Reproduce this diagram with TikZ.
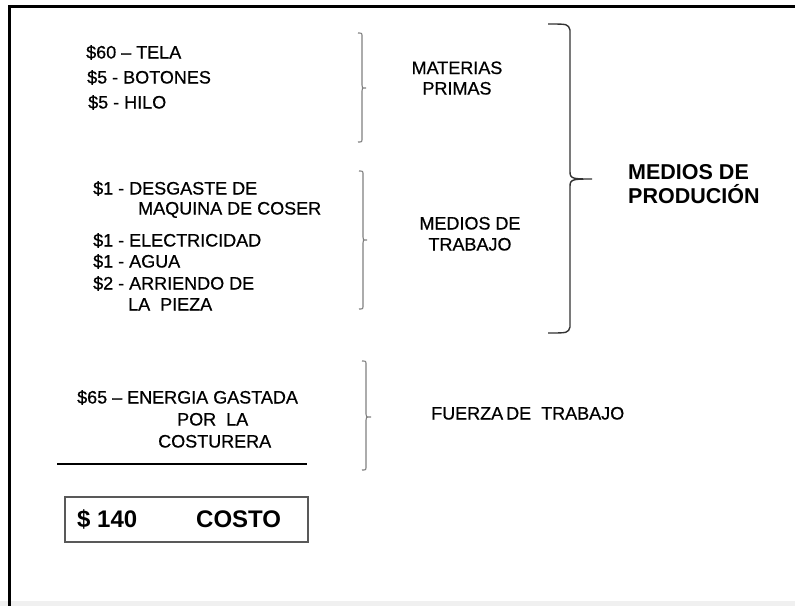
\documentclass[tikz,border=0pt]{standalone}
\usepackage{fontspec}
\setmainfont{Liberation Sans}
\newfontfamily\regfont[FakeBold=0.6]{Liberation Sans}
\tikzset{
  txt/.style={anchor=base west, inner sep=0pt, font=\regfont\fontsize{18}{20}\selectfont, text=black},
  ctxt/.style={anchor=base, inner sep=0pt, font=\regfont\fontsize{18}{20}\selectfont, text=black},
  bigt/.style={anchor=base west, inner sep=0pt, font=\fontsize{21.5}{24}\selectfont\bfseries, text=black},
  costt/.style={anchor=base west, inner sep=0pt, font=\fontsize{24}{26}\selectfont\bfseries, text=black},
  smallbrace/.style={draw=black!50, line width=1.1pt},
  bigbrace/.style={draw=black!80, line width=1.4pt},
  frameline/.style={draw=black, line width=3pt},
}
\begin{document}
\begin{tikzpicture}[x=1pt,y=-1pt]
\useasboundingbox (0,0) rectangle (795,606);
\fill[black!6] (0,601) rectangle (795,606);
% frame
\draw[frameline] (9,6.5) -- (795,6.5);
\draw[frameline] (9,5) -- (9,606);

% materias primas
\node[txt] (t1) at (86,58.5) {\$60 – TELA};
\node[txt] (t2) at (87,83.5) {\$5 - BOTONES};
\node[txt] (t3) at (88,108.5) {\$5 - HILO};
% medios de trabajo
\node[txt] (m1) at (93,194.5) {\$1 - DESGASTE DE};
\node[txt] (m2) at (138,214.5) {MAQUINA DE COSER};
\node[txt] (m3) at (93,246.5) {\$1 - ELECTRICIDAD};
\node[txt] (m4) at (93,267.5) {\$1 - AGUA};
\node[txt] (m5) at (93,289.5) {\$2 - ARRIENDO DE};
\node[txt] (m6) at (128,310.5) {LA\ \ PIEZA};

% small brackets
\draw[smallbrace] (358,33) .. controls (362,33) .. (362,37) -- (362,85) .. controls (362,88) .. (366,88) .. controls (362,88) .. (362,91) -- (362,138) .. controls (362,142) .. (358,142);
\draw[smallbrace] (359,171) .. controls (363,171) .. (363,175) -- (363,237) .. controls (363,240) .. (367,240) .. controls (363,240) .. (363,243) -- (363,305) .. controls (363,309) .. (359,309);
\draw[smallbrace] (362,361) .. controls (366,361) .. (366,365) -- (366,414) .. controls (366,417) .. (371,417) .. controls (366,417) .. (366,420) -- (366,466) .. controls (366,470) .. (362,470);

% labels
\node[ctxt] (mp1) at (457,74) {MATERIAS};
\node[ctxt] (mp2) at (457,94.5) {PRIMAS};
\node[ctxt] (mt1) at (470,229.5) {MEDIOS DE};
\node[ctxt] (mt2) at (470,250.5) {TRABAJO};

% big brace
\draw[bigbrace] (548,24) .. controls (568,24) .. (570,30) -- (570,172) .. controls (570,179) and (574,179) .. (592,179) .. controls (574,179) and (570,179) .. (570,186) -- (570,327) .. controls (568,333) .. (548,333);
\node[bigt] (mp) at (628,179.2) {MEDIOS DE};
\node[bigt] (pr) at (628,203.7) {PRODUCIÓN};

% fuerza de trabajo
\node[txt] (f1) at (77,403.5) {\$65 – ENERGIA GASTADA};
\node[txt] (f2) at (177,425.5) {POR\ \ LA};
\node[txt] (f3) at (158,447.5) {COSTURERA};
\node[txt] (ft) at (431,419.5) {FUERZA\hspace{-2pt} DE\ \ TRABAJO};
\coordinate (la) at (57,464);
\coordinate (lb) at (307,464);
\draw[black, line width=1.3pt] (la) -- (lb);

% costo box
\draw[black!65, line width=1.4pt] (65,497) rectangle (308,542);
\node[costt] (c1) at (77,527.6) {\$ 140};
\node[costt] (c2) at (196,527.6) {COSTO};
\end{tikzpicture}
\end{document}
